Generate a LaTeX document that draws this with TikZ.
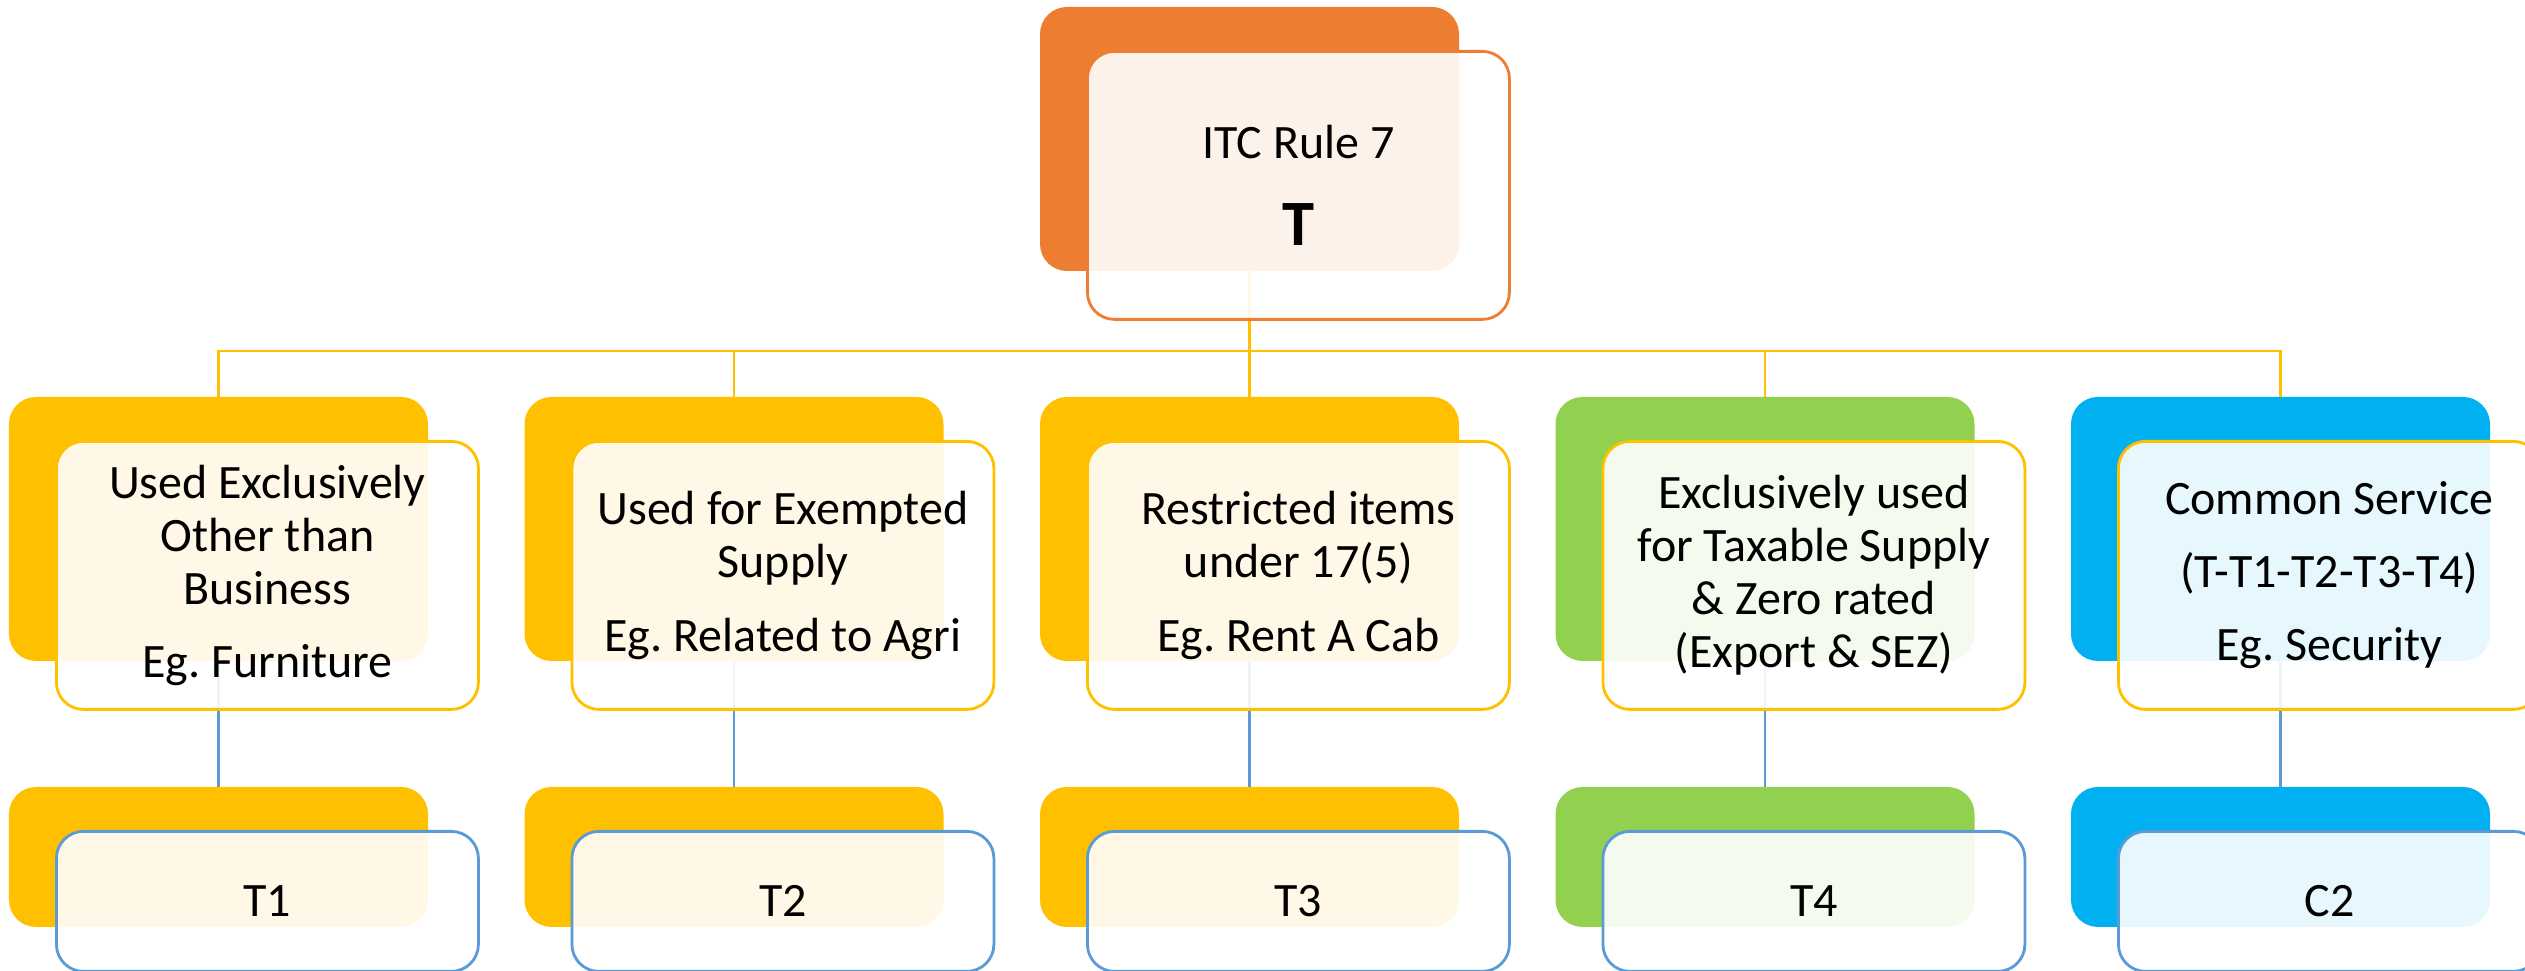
\documentclass[tikz,border=0pt]{standalone}
\usepackage{fontspec}
\setmainfont{Carlito}
\usepackage{xcolor}
\usetikzlibrary{positioning}
\definecolor{ruleOrange}{HTML}{ED7D31}
\definecolor{gold}{HTML}{FFC000}
\definecolor{leaf}{HTML}{92D050}
\definecolor{sky}{HTML}{00B0F0}
\definecolor{steel}{HTML}{5B9BD5}
\frenchspacing

\begin{document}
\begin{tikzpicture}[node distance=1.26cm and 0.965cm, font=\fontsize{13.65pt}{15.1pt}\selectfont]
\tikzstyle{bk}=[rounded corners=0.27cm, minimum width=4.19cm, minimum height=2.64cm, inner sep=0pt, outer sep=0pt]
\tikzstyle{bkLow}=[bk, minimum height=1.40cm]
\tikzstyle{fr}=[draw=gold, line width=0.8pt, fill=white, fill opacity=0.9, text opacity=1, rounded corners=0.27cm, minimum width=4.22cm, minimum height=2.68cm, inner sep=0pt, align=center]
\tikzstyle{frLow}=[fr, draw=steel, minimum height=1.40cm]
\tikzstyle{link}=[line width=0.75pt]
\useasboundingbox (0,0) rectangle (25.25,9.71);
\clip (0,0) rectangle (25.25,9.71);
% back cards
\node[bk, fill=ruleOrange] (rule) at (12.495,8.32) {};
\node[bk, fill=gold, below=of rule] (res) {};
\node[bk, fill=gold, left=of res] (exm) {};
\node[bk, fill=gold, left=of exm] (use) {};
\node[bk, fill=leaf, right=of res] (tax) {};
\node[bk, fill=sky, right=of tax] (com) {};
\node[bkLow, fill=gold, below=of use] (t1) {};
\node[bkLow, fill=gold, below=of exm] (t2) {};
\node[bkLow, fill=gold, below=of res] (t3) {};
\node[bkLow, fill=leaf, below=of tax] (t4) {};
\node[bkLow, fill=sky, below=of com] (c2) {};
% connectors
\foreach \n in {use,exm,res,tax,com}
  \draw[link, gold] (rule.south) -- ++(0,-0.8) -| (\n.north);
\foreach \n/\m in {use/t1,exm/t2,res/t3,tax/t4,com/c2}
  \draw[link, steel] (\n.south) -- (\m.north);
% front cards
\node[fr, draw=ruleOrange, below right=0.43cm and 0.46cm of rule.north west] (ruleTxt) {ITC Rule 7\\[9.4pt]{\fontsize{18.4pt}{15.1pt}\selectfont\bfseries T}};
\node[fr, below right=0.43cm and 0.46cm of use.north west] (useTxt) {Used Exclusively\\Other than\\Business\\[5.7pt]Eg. Furniture};
\node[fr, below right=0.43cm and 0.46cm of exm.north west] (exmTxt) {Used for Exempted\\Supply\\[5.7pt]Eg. Related to Agri};
\node[fr, below right=0.43cm and 0.46cm of res.north west] (resTxt) {Restricted items\\under 17(5)\\[5.7pt]Eg. Rent A Cab};
\node[fr, below right=0.43cm and 0.46cm of tax.north west] (taxTxt) {Exclusively used\\for Taxable Supply\\\& Zero rated\\(Export \& SEZ)};
\node[fr, below right=0.43cm and 0.46cm of com.north west] (comTxt) {Common Service\\[5.7pt](T-T1-T2-T3-T4)\\[5.7pt]Eg. Security};
\node[frLow, below right=0.43cm and 0.46cm of t1.north west] (t1Txt) {T1};
\node[frLow, below right=0.43cm and 0.46cm of t2.north west] (t2Txt) {T2};
\node[frLow, below right=0.43cm and 0.46cm of t3.north west] (t3Txt) {T3};
\node[frLow, below right=0.43cm and 0.46cm of t4.north west] (t4Txt) {T4};
\node[frLow, below right=0.43cm and 0.46cm of c2.north west] (c2Txt) {C2};
\end{tikzpicture}
\end{document}
